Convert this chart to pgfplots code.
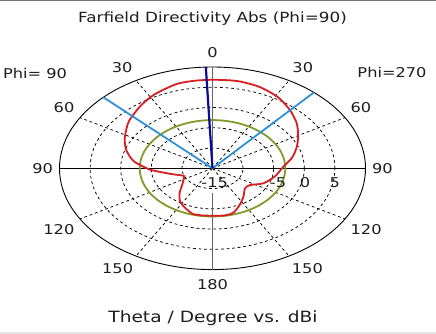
\documentclass[border=0pt]{standalone}
\usepackage{pgfplots}
\pgfplotsset{compat=1.18}
\usepackage{pgfplotstable}
\usepackage{fontspec}
\setmainfont[FakeStretch=1.2]{DejaVu Sans}
\definecolor{cstred}{RGB}{215,30,35}
\definecolor{cstgreen}{RGB}{130,155,40}
\definecolor{cstblue}{RGB}{45,145,215}
\definecolor{cstnavy}{RGB}{10,10,150}
\definecolor{txt}{RGB}{30,30,30}
\definecolor{axgray}{RGB}{100,100,100}

% theta (deg), directivity (dBi); centre of the plot = -15 dBi
\pgfplotstableread{
t db
-180 -3.3
-172 -3.25
-164 -3.3
-156 -4.2
-149 -5.0
-144 -5.8
-138 -7.0
-132 -8.2
-127 -8.9
-119 -9.6
-113 -10.0
-108 -9.5
-103 -8.4
-96 -6.4
-92 -4.8
-88 -3.7
-83 -2.2
-78 -1.2
-71 0.0
-63 1.1
-55 2.15
-49 3.0
-38 4.3
-28 5.5
-16 6.6
-8 6.8
0 6.85
8 6.9
13 6.85
21 6.5
31 5.6
41 4.2
51 2.7
61 1.0
70 -0.4
79 -1.8
88 -3.4
101 -4.6
114 -5.9
124 -7.6
133 -7.75
144 -6.4
154 -4.9
163 -3.5
171 -3.2
180 -3.3
}\redtab

\pgfplotstableread{
t db
-180 -3.1
-170 -3.1
-160 -3.1
-150 -3.1
-140 -3.1
-130 -3.1
-120 -3.1
-110 -3.1
-100 -3.1
-90 -3.1
-80 -3.1
-70 -3.1
-60 -3.1
-50 -3.1
-40 -3.1
-30 -3.1
-20 -3.1
-10 -3.1
0 -3.1
10 -3.1
20 -3.1
30 -3.1
40 -3.1
50 -3.1
60 -3.1
70 -3.1
80 -3.1
90 -3.1
100 -3.1
110 -3.1
120 -3.1
130 -3.1
140 -3.1
150 -3.1
160 -3.1
170 -3.1
180 -3.1
}\greentab

\pgfplotstableread{
t db
-2.5 -15
-2.5 10
}\navytab

\pgfplotstableread{
t db
-45.5 -15
-45.5 10
}\blueLtab

\pgfplotstableread{
t db
41.5 -15
41.5 10
}\blueRtab

\begin{document}
\begin{tikzpicture}
\path[use as bounding box, fill=white] (0,0) rectangle (436bp,334bp);
\draw[black!55, line width=1bp] (0,333.2bp) -- (436bp,333.2bp);
\fill[black!10] (0,0) rectangle (436bp,2bp);
\begin{axis}[
  at={(212.5bp,165.7bp)}, anchor=center,
  width=306bp, height=202.6bp, scale only axis,
  xmin=-25, xmax=25, ymin=-25, ymax=25,
  hide axis, clip=false,
]
% grid
\draw[black, line width=0.75bp, dash pattern=on 2.8bp off 2.8bp]
  (axis cs:0,0) ellipse [x radius=5, y radius=5]
  (axis cs:0,0) ellipse [x radius=10, y radius=10]
  (axis cs:0,0) ellipse [x radius=15, y radius=15]
  (axis cs:0,0) ellipse [x radius=20, y radius=20];
\draw[black, line width=0.75bp, dash pattern=on 2.8bp off 2.8bp]
  (axis cs:0,0) -- (axis cs:12.5,21.65)
  (axis cs:0,0) -- (axis cs:-12.5,21.65)
  (axis cs:0,0) -- (axis cs:21.65,12.5)
  (axis cs:0,0) -- (axis cs:-21.65,12.5)
  (axis cs:0,0) -- (axis cs:12.5,-21.65)
  (axis cs:0,0) -- (axis cs:-12.5,-21.65)
  (axis cs:0,0) -- (axis cs:21.65,-12.5)
  (axis cs:0,0) -- (axis cs:-21.65,-12.5);
\draw[black, line width=0.9bp] (axis cs:0,0) ellipse [x radius=25, y radius=25];
\draw[black, line width=1bp] (axis cs:-25,0) -- (axis cs:25,0);
\draw[axgray, line width=1.5bp] (axis cs:0,0) -- (axis cs:0,25);
\draw[axgray, line width=1.5bp] (axis cs:0,-6.1) -- (axis cs:0,-25);

% data
\addplot[cstgreen, line width=1.8bp, smooth] table[x expr={(\thisrow{db}+15)*sin(\thisrow{t})}, y expr={(\thisrow{db}+15)*cos(\thisrow{t})}] {\greentab};
\addplot[cstred, line width=1.8bp, smooth, tension=0.45] table[x expr={(\thisrow{db}+15)*sin(\thisrow{t})}, y expr={(\thisrow{db}+15)*cos(\thisrow{t})}] {\redtab};
\addplot[cstblue, line width=1.8bp] table[x expr={(\thisrow{db}+15)*sin(\thisrow{t})}, y expr={(\thisrow{db}+15)*cos(\thisrow{t})}] {\blueLtab};
\addplot[cstblue, line width=1.8bp] table[x expr={(\thisrow{db}+15)*sin(\thisrow{t})}, y expr={(\thisrow{db}+15)*cos(\thisrow{t})}] {\blueRtab};
\addplot[cstnavy, line width=2.2bp] table[x expr={(\thisrow{db}+15)*sin(\thisrow{t})}, y expr={(\thisrow{db}+15)*cos(\thisrow{t})}] {\navytab};

% angular labels
\begin{scope}[every node/.style={text=txt, font=\fontsize{13.5bp}{15bp}\selectfont, inner sep=0pt}]
\node at (axis cs:0,28.5) {0};
\node at (axis cs:-14.75,24.75) {30};
\node at (axis cs:14.75,24.75) {30};
\node at (axis cs:-24.26,15.1) {60};
\node at (axis cs:24.26,15.1) {60};
\node at (axis cs:-27.75,0) {90};
\node at (axis cs:27.75,0) {90};
\node at (axis cs:-25.1,-15.1) {120};
\node at (axis cs:25.1,-15.1) {120};
\node at (axis cs:-15.5,-24.7) {150};
\node at (axis cs:15.5,-24.7) {150};
\node at (axis cs:0,-28.6) {180};
% radial labels
\node at (axis cs:0.36,-3.56) {-15};
\node at (axis cs:10.7,-3.56) {-5};
\node at (axis cs:15.1,-3.56) {0};
\node at (axis cs:20.0,-3.56) {5};
\end{scope}
\end{axis}
\node[text=txt, font=\fontsize{14bp}{16bp}\selectfont] at (212.5bp,315.5bp) {Farfield Directivity Abs (Phi=90)};
\node[text=txt, font=\fontsize{13.5bp}{15bp}\selectfont] at (35bp,261bp) {Phi= 90};
\node[text=txt, font=\fontsize{13.5bp}{15bp}\selectfont] at (392bp,261.5bp) {Phi=270};
\node[text=txt, font=\fontsize{15.5bp}{18bp}\selectfont] at (213bp,16bp) {Theta / Degree vs. dBi};
\end{tikzpicture}
\end{document}
